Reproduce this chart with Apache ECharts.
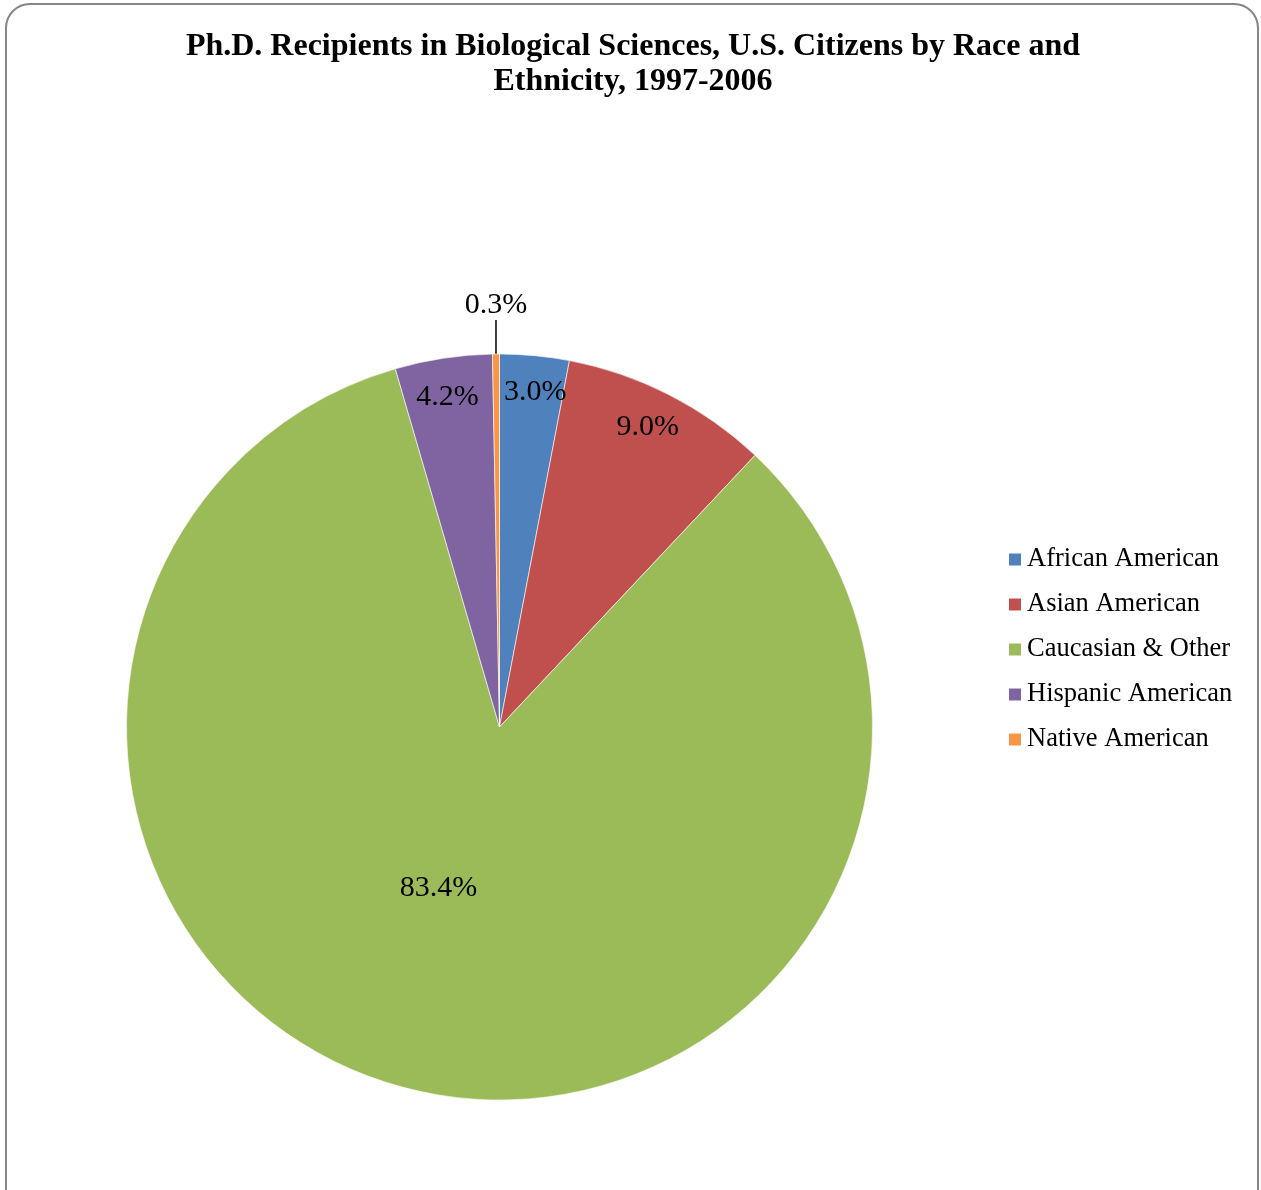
<!DOCTYPE html>
<html>
<head>
<meta charset="utf-8">
<script src="https://cdn.jsdelivr.net/npm/echarts@6/dist/echarts.min.js"></script>
<style>
  html, body { margin: 0; padding: 0; background: #fff; }
  #chart { width: 1261px; height: 1190px; }
</style>
</head>
<body>
<div id="chart"></div>
<script>
// Ph.D. recipients in biological sciences, U.S. citizens, by race/ethnicity (percent)
const categories = ['African American', 'Asian American', 'Caucasian & Other', 'Hispanic American', 'Native American'];
const shares = [3.0, 9.0, 83.4, 4.2, 0.3];
const colors = ['#4f81bd', '#c0504d', '#9bbb59', '#8064a2', '#f79646'];

const SERIF = '"Liberation Serif", "Times New Roman", serif';
const CX = 499.5, CY = 727, R = 373;

// Radial distance (px) and angular nudge (deg, clockwise) of each inside label
const labelDist = [338, 335, 166, 335, null];
const labelTurn = [0.6, -1.0, 7.8, -0.2, 0];

const total = shares.reduce((a, b) => a + b, 0);
let acc = 0;
const pieData = categories.map((name, i) => {
  const midDeg = (acc + shares[i] / 2) / total * 360;
  acc += shares[i];
  const item = { name, value: shares[i], itemStyle: { color: colors[i] } };
  if (labelDist[i] !== null) {
    const t = (midDeg + labelTurn[i]) * Math.PI / 180;
    const m = midDeg * Math.PI / 180;
    // 'inside' puts the label at half the radius; shift it to the wanted spot
    const tx = Math.sin(t) * labelDist[i], ty = -Math.cos(t) * labelDist[i];
    const bx = Math.sin(m) * 0.5 * R, by = -Math.cos(m) * 0.5 * R;
    item.label = { position: 'inside', offset: [tx - bx, ty - by + 4] };
  } else {
    item.label = { position: 'outside' };
    item.labelLine = { show: true, length: 33, length2: 0, lineStyle: { color: '#000', width: 1.5 } };
  }
  return item;
});

const chart = echarts.init(document.getElementById('chart'), null, { renderer: 'canvas' });
chart.setOption({
  backgroundColor: '#fff',
  animation: false,
  title: {
    text: 'Ph.D. Recipients in Biological Sciences, U.S. Citizens by Race and\nEthnicity, 1997-2006',
    left: 628, top: 24, textAlign: 'center',
    textStyle: { fontFamily: SERIF, fontWeight: 'bold', fontSize: 32, lineHeight: 35, color: '#000' }
  },
  legend: {
    orient: 'vertical', left: 1002, top: 541,
    itemWidth: 14, itemHeight: 14, itemGap: 18,
    icon: 'rect',
    textStyle: { fontFamily: SERIF, fontSize: 26.5, lineHeight: 27, color: '#000' },
    data: categories
  },
  graphic: [{
    type: 'rect', silent: true,
    shape: { x: 6, y: 4, width: 1252, height: 1210, r: 24 },
    style: { fill: 'none', stroke: '#868686', lineWidth: 2 }
  }],
  series: [{
    type: 'pie',
    center: [CX, CY], radius: R,
    startAngle: 90, clockwise: true,
    avoidLabelOverlap: false,
    itemStyle: { borderColor: '#fff', borderWidth: 0.6 },
    label: {
      show: true, fontFamily: SERIF, fontSize: 30, color: '#000',
      formatter: p => p.value.toFixed(1) + '%'
    },
    labelLayout: function (params) {
      if (params.dataIndex === 4) {
        // centre the small-slice label straight above its slice so the leader stays vertical
        const pts = params.labelLinePoints;
        return { x: pts[0][0], y: pts[1][1] - 1, align: 'center', verticalAlign: 'bottom' };
      }
    },
    data: pieData
  }]
});
</script>
</body>
</html>
